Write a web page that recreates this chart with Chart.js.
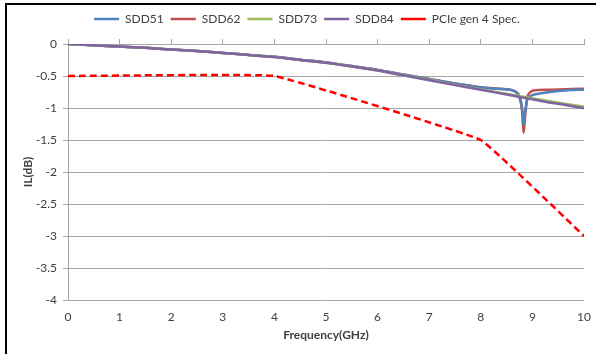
<!DOCTYPE html>
<html>
<head>
<meta charset="utf-8">
<script src="https://cdn.jsdelivr.net/npm/chart.js@4.4.1/dist/chart.umd.min.js"></script>
<style>
    html, body { margin: 0; padding: 0; background: #fff; }
    #wrap { position: relative; width: 596px; height: 354px; }
    #frame {
        position: absolute; left: 5px; top: 3px; right: 0; bottom: 0;
        border-left: 2px solid #000; border-top: 2px solid #000;
        pointer-events: none;
    }
</style>
</head>
<body>
<div id="wrap">
    <canvas id="myChart" width="596" height="354"></canvas>
    <div id="frame"></div>
</div>
<script>
/* ===============================
   DATA
=============================== */
const freq = [0, 0.5, 1, 1.5, 2, 2.5, 3, 3.5, 4, 4.5, 5, 5.5, 6, 6.5, 7, 7.5, 8,
    8.3, 8.5, 8.6, 8.7, 8.75, 8.8, 8.83, 8.86, 8.9, 8.95, 9, 9.1, 9.3, 9.5, 9.75, 10];

const sdd51 = [0, -0.02, -0.04, -0.06, -0.085, -0.11, -0.14, -0.17, -0.2, -0.245, -0.29, -0.345, -0.405, -0.475, -0.545, -0.615, -0.68,
    -0.7, -0.71, -0.72, -0.76, -0.82, -1.0, -1.27, -1.05, -0.87, -0.82, -0.8, -0.78, -0.755, -0.735, -0.72, -0.715];

const sdd62 = [0, -0.02, -0.04, -0.06, -0.085, -0.11, -0.14, -0.17, -0.2, -0.245, -0.29, -0.345, -0.405, -0.475, -0.545, -0.615, -0.675,
    -0.695, -0.705, -0.72, -0.765, -0.83, -1.05, -1.39, -1.12, -0.84, -0.76, -0.73, -0.72, -0.715, -0.71, -0.705, -0.7];

const sdd73 = [0, -0.02, -0.04, -0.06, -0.085, -0.11, -0.14, -0.17, -0.205, -0.25, -0.295, -0.35, -0.413, -0.487, -0.56, -0.635, -0.708,
    -0.75, -0.778, -0.792, -0.806, -0.813, -0.82, -0.824, -0.828, -0.834, -0.841, -0.848, -0.862, -0.89, -0.918, -0.95, -0.98];

const sdd84 = [0, -0.02, -0.04, -0.06, -0.085, -0.11, -0.14, -0.17, -0.205, -0.25, -0.295, -0.35, -0.415, -0.49, -0.565, -0.64, -0.715,
    -0.76, -0.79, -0.805, -0.82, -0.828, -0.835, -0.84, -0.845, -0.85, -0.857, -0.865, -0.88, -0.91, -0.935, -0.97, -1.005];

const specFreq = [0, 4, 8, 10];
const specIL = [-0.5, -0.5, -1.5, -3];

const seriesNames = ["SDD51", "SDD62", "SDD73", "SDD84", "PCIe gen 4 Spec."];

/* ===============================
   HELPERS
=============================== */
const FONT = "Lato, 'Open Sans', sans-serif";
const GRID = "#a6a6a6";
const TEXT = "#404040";

function toPoints(xs, ys) {
    return xs.map((x, i) => ({ x: x, y: ys[i] }));
}

function curve(label, xs, ys, color, order) {
    return {
        label: label,
        data: toPoints(xs, ys),
        borderColor: color,
        backgroundColor: color,
        borderWidth: 2.5,
        pointRadius: 0,
        cubicInterpolationMode: "monotone",
        order: order
    };
}

// keep the plot box fixed: no extra side padding from the x labels
function noSidePadding(scale, h) {
    scale.height = h;
    scale.paddingLeft = 0;
    scale.paddingRight = 0;
}

/* ===============================
   CHART
=============================== */
const ctx = document.getElementById("myChart");

const myChart = new Chart(ctx, {
    type: "line",
    data: {
        datasets: [
            curve(seriesNames[0], freq, sdd51, "#4F81BD", 2),
            curve(seriesNames[1], freq, sdd62, "#C0504D", 3),
            curve(seriesNames[2], freq, sdd73, "#9BBB59", 1),
            curve(seriesNames[3], freq, sdd84, "#8064A2", 0),
            {
                label: seriesNames[4],
                data: toPoints(specFreq, specIL),
                borderColor: "#FF0000",
                backgroundColor: "#FF0000",
                borderWidth: 2.5,
                borderDash: [7, 4],
                pointRadius: 0,
                tension: 0.07,
                order: 4
            }
        ]
    },
    options: {
        responsive: false,
        animation: false,
        layout: {
            padding: { top: 6, left: 30, right: 12, bottom: 0 }
        },
        plugins: {
            legend: {
                position: "top",
                labels: {
                    usePointStyle: true,
                    pointStyle: "line",
                    pointStyleWidth: 25,
                    boxHeight: 10,
                    padding: 7,
                    color: TEXT,
                    font: { family: FONT, size: 12 },
                    sort: (a, b) => a.datasetIndex - b.datasetIndex
                }
            },
            tooltip: { enabled: false }
        },
        scales: {
            x: {
                type: "linear",
                position: "bottom",
                min: 0,
                max: 10,
                ticks: {
                    stepSize: 1,
                    padding: 10,
                    color: TEXT,
                    font: { family: FONT, size: 12 }
                },
                grid: { display: false, drawTicks: false },
                border: { display: false },
                title: {
                    display: true,
                    text: "Frequency(GHz)",
                    color: TEXT,
                    font: { family: FONT, size: 12, weight: "bold" },
                    padding: { top: 4, bottom: 12 }
                },
                afterFit: scale => noSidePadding(scale, 54)
            },
            x2: {
                type: "linear",
                position: "top",
                min: 0,
                max: 10,
                ticks: { display: false, stepSize: 1 },
                grid: { drawOnChartArea: false, tickLength: 5, color: GRID },
                border: { display: true, color: GRID },
                afterFit: scale => noSidePadding(scale, 9)
            },
            y: {
                min: -4,
                max: 0,
                ticks: {
                    stepSize: 0.5,
                    padding: 6,
                    color: TEXT,
                    font: { family: FONT, size: 12 },
                    callback: v => String(v)
                },
                grid: { color: GRID, tickLength: 5 },
                border: { display: true, color: GRID },
                title: {
                    display: true,
                    text: "IL(dB)",
                    color: TEXT,
                    font: { family: FONT, size: 12, weight: "bold" },
                    padding: { top: -9, bottom: 0 }
                },
                afterFit: scale => { scale.width = 38; }
            }
        }
    }
});
</script>
</body>
</html>
